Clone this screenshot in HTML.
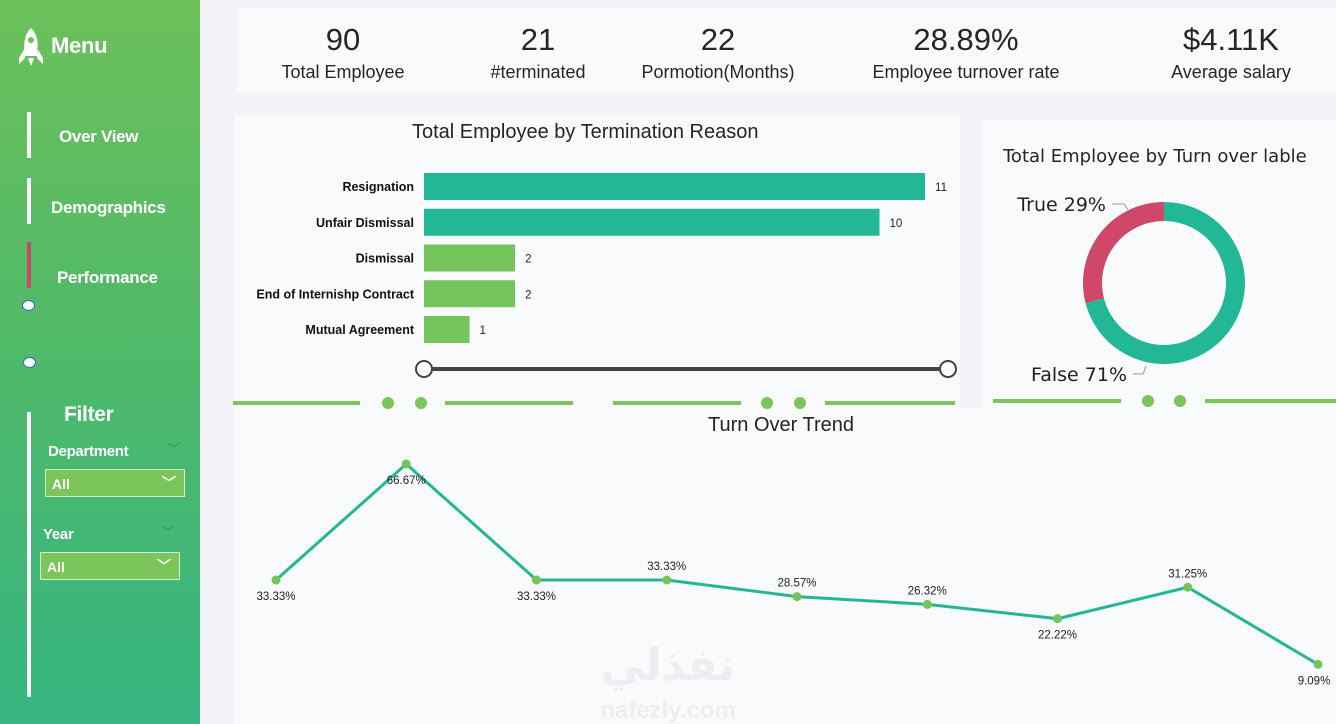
<!DOCTYPE html>
<html><head><meta charset="utf-8"><style>
body{margin:0;width:1336px;height:724px;overflow:hidden;background:#f3f4f7;font-family:"Liberation Sans",sans-serif;position:relative}
.abs{position:absolute}
#side{left:0;top:0;width:200px;height:724px;background:linear-gradient(180deg,#6cc05a 0%,#4fb96a 50%,#36b581 100%)}
.nav{position:absolute;color:#fff;font-weight:bold;font-size:17px;letter-spacing:-0.3px}
.bar{position:absolute;width:4px;background:#fff}
.panel{position:absolute;background:#f9fafc}
.kv{position:absolute;text-align:center;width:200px;color:#252525;font-family:"Liberation Sans Narrow","Liberation Sans",sans-serif}
.kv .v{font-size:31px;line-height:36px}
.kv .l{font-size:18px;margin-top:4px}
.title{position:absolute;font-family:"Liberation Sans Narrow","Liberation Sans",sans-serif;color:#252525;font-size:20px}
.sel{position:absolute;background:#7bc55a;border:1px solid #d9efcf;color:#fff;font-size:14px;font-weight:bold;height:28px;line-height:28px;padding-left:6px;box-sizing:border-box}
</style></head><body>
<div id="side" class="abs">
 <svg class="abs" style="left:18px;top:28px" width="26" height="40"><path d="M13 0 C5 8 6 18 7 28 L19 28 C20 18 21 8 13 0Z M7 20 L1 30 L1 36 L7 30Z M19 20 L25 30 L25 36 L19 30Z M10 30 L16 30 L13 38Z" fill="#fff"/><circle cx="13" cy="12" r="3" fill="#6cc05a"/></svg>
 <div class="nav" style="left:51px;top:33px;font-size:22px">Menu</div>
 <div class="bar" style="left:27px;top:112px;height:46px"></div>
 <div class="nav" style="left:59px;top:127px">Over View</div>
 <div class="bar" style="left:27px;top:178px;height:46px"></div>
 <div class="nav" style="left:51px;top:198px">Demographics</div>
 <div class="bar" style="left:27px;top:242px;height:46px;background:#c84a66"></div>
 <div class="nav" style="left:57px;top:268px">Performance</div>
 <div class="abs" style="left:22px;top:300px;width:11px;height:9px;border-radius:50%;background:#fff;border:1px solid #2a6fd0"></div>
 <div class="abs" style="left:23px;top:357px;width:11px;height:9px;border-radius:50%;background:#fff;border:1px solid #2a6fd0"></div>
 <div class="bar" style="left:27px;top:412px;height:285px"></div>
 <div class="nav" style="left:64px;top:403px;font-size:21px">Filter</div>
 <div class="nav" style="left:48px;top:443px;font-size:15px">Department</div>
 <div class="abs" style="left:168px;top:440px;color:#3d8a4a;font-size:12px">﹀</div>
 <div class="sel" style="left:45px;top:469px;width:140px">All<span style="position:absolute;right:8px;top:-1px">﹀</span></div>
 <div class="nav" style="left:43px;top:526px;font-size:15px">Year</div>
 <div class="abs" style="left:162px;top:523px;color:#3d8a4a;font-size:12px">﹀</div>
 <div class="sel" style="left:40px;top:552px;width:140px">All<span style="position:absolute;right:8px;top:-1px">﹀</span></div>
</div>

<div class="panel" style="left:237px;top:8px;width:1099px;height:84px"></div>
<div class="kv" style="left:243px;top:22px"><div class="v">90</div><div class="l">Total Employee</div></div>
<div class="kv" style="left:438px;top:22px"><div class="v">21</div><div class="l">#terminated</div></div>
<div class="kv" style="left:618px;top:22px"><div class="v">22</div><div class="l">Pormotion(Months)</div></div>
<div class="kv" style="left:866px;top:22px"><div class="v">28.89%</div><div class="l">Employee turnover rate</div></div>
<div class="kv" style="left:1131px;top:22px"><div class="v">$4.11K</div><div class="l">Average salary</div></div>

<div class="panel" style="left:235px;top:115px;width:725px;height:300px"></div>
<div class="panel" style="left:983px;top:120px;width:353px;height:290px"></div>
<div class="panel" style="left:235px;top:408px;width:1101px;height:316px"></div>

<div class="title" style="left:412px;top:121px">Total Employee by Termination Reason</div>
<div class="title" style="left:1003px;top:146px;font-family:'DejaVu Sans',sans-serif;font-size:18px">Total Employee by Turn over lable</div>
<div class="title" style="left:708px;top:414px">Turn Over Trend</div>

<svg class="abs" style="left:0;top:0" width="1336" height="724" id="svg">
 <text x="668" y="680" font-size="44" fill="#eceef1" text-anchor="middle" font-family="'DejaVu Sans',sans-serif" font-weight="bold">نفذلي</text>
 <text x="668" y="718" font-size="24" fill="#eceef1" text-anchor="middle" font-family="'Liberation Sans',sans-serif" font-weight="bold">nafezly.com</text>
 <g fill="#7bc55a">
  <rect x="233" y="401" width="127" height="4"/><rect x="445" y="401" width="128" height="4"/>
  <rect x="613" y="401" width="128" height="4"/><rect x="825" y="401" width="130" height="4"/>
  <rect x="993" y="399" width="128" height="4"/><rect x="1205" y="399" width="131" height="4"/>
  <circle cx="388" cy="403" r="6"/><circle cx="421" cy="403" r="6"/>
  <circle cx="767" cy="403" r="6"/><circle cx="800" cy="403" r="6"/>
  <circle cx="1148" cy="401" r="6"/><circle cx="1180" cy="401" r="6"/>
 </g>
 <g>
  <line x1="424" y1="369" x2="948" y2="369" stroke="#444" stroke-width="4"/>
  <circle cx="424" cy="369" r="8" fill="#fff" stroke="#444" stroke-width="2"/>
  <circle cx="948" cy="369" r="8" fill="#fff" stroke="#444" stroke-width="2"/>
 </g>
 <g id="bars"></g><g id="donut"></g><g id="line"></g>
</svg>

<script>
const reasons=["Resignation","Unfair Dismissal","Dismissal","End of Internishp Contract","Mutual Agreement"];
const counts=[11,10,2,2,1];
const turnLabels=["True","False"];
const turnPct=[29,71];
const periods=["P1","P2","P3","P4","P5","P6","P7","P8","P9"];
const turnover=[33.33,66.67,33.33,33.33,28.57,26.32,22.22,31.25,9.09];
const NS="http://www.w3.org/2000/svg";
function mk(tag,attrs,parent,txt){const e=document.createElementNS(NS,tag);for(const k in attrs)e.setAttribute(k,attrs[k]);if(txt!==undefined)e.textContent=txt;parent.appendChild(e);return e;}
// bar chart
const bx=v=>424+v*45.55, by=i=>173+i*35.75;
const gb=document.getElementById('bars');
counts.forEach((c,i)=>{
 const r=mk('rect',{x:424,y:by(i),width:bx(c)-424,height:27,fill:c>=5?'#22b795':'#76c45c'},gb);
 
 
 const t=mk('text',{x:414,y:by(i)+18,'text-anchor':'end','font-size':12.5,'font-weight':'bold',fill:'#111','font-family':"'Liberation Sans Narrow','Liberation Sans',sans-serif"},gb,reasons[i]);
 
 
 const v=mk('text',{x:bx(c)+10,y:by(i)+18,'font-size':11.5,fill:'#222'},gb,String(c));
 
 
});
// donut (angles measured counter-clockwise from 12 o'clock)
const gd=document.getElementById('donut');
const cx=1164,cy=283,Ro=81,Ri=62;
const pt=(r,f)=>{const a=f*2*Math.PI;return [cx-r*Math.sin(a),cy-r*Math.cos(a)];};
let acc=0;
const cols=['#cf4869','#22b795'];
const tot=turnPct.reduce((a,b)=>a+b,0);
turnPct.forEach((p,i)=>{
 const f0=acc/tot,f1=(acc+p)/tot;acc+=p;
 const large=(f1-f0)>0.5?1:0;
 const a=pt(Ro,f0),b=pt(Ro,f1),c=pt(Ri,f1),d=pt(Ri,f0);
 const s=mk('path',{d:`M${a} A${Ro} ${Ro} 0 ${large} 0 ${b} L${c} A${Ri} ${Ri} 0 ${large} 1 ${d} Z`,fill:cols[i]},gd);
 
 
});
const l1=mk('text',{x:1106,y:211,'text-anchor':'end','font-size':19,fill:'#222','font-family':"'DejaVu Sans',sans-serif"},gd,turnLabels[0]+' '+turnPct[0]+'%');


mk('path',{d:'M1112 204 H1124 L1128 210',stroke:'#999',fill:'none'},gd);
const l2=mk('text',{x:1127,y:381,'text-anchor':'end','font-size':19,fill:'#222','font-family':"'DejaVu Sans',sans-serif"},gd,turnLabels[1]+' '+turnPct[1]+'%');


mk('path',{d:'M1133 374 H1143 L1146 366',stroke:'#999',fill:'none'},gd);
// line chart
const gl=document.getElementById('line');
const lx=i=>276+i*130.25, ly=v=>696-v*3.48;
const pts=turnover.map((v,i)=>lx(i)+','+ly(v)).join(' ');
const pl=mk('polyline',{points:pts,fill:'none',stroke:'#22b795','stroke-width':3},gl);


const below=[1,1,1,0,0,0,1,0,1];
turnover.forEach((v,i)=>{
 const c=mk('circle',{cx:lx(i),cy:ly(v),r:4.5,fill:'#76c45c'},gl);
 
 
 const t=mk('text',{x:lx(i)+(i==8?-4:0),y:ly(v)+(below[i]?20:-10),'text-anchor':'middle','font-size':11.5,fill:'#222'},gl,v.toFixed(2)+'%');
 
 
});
</script>
</body></html>
